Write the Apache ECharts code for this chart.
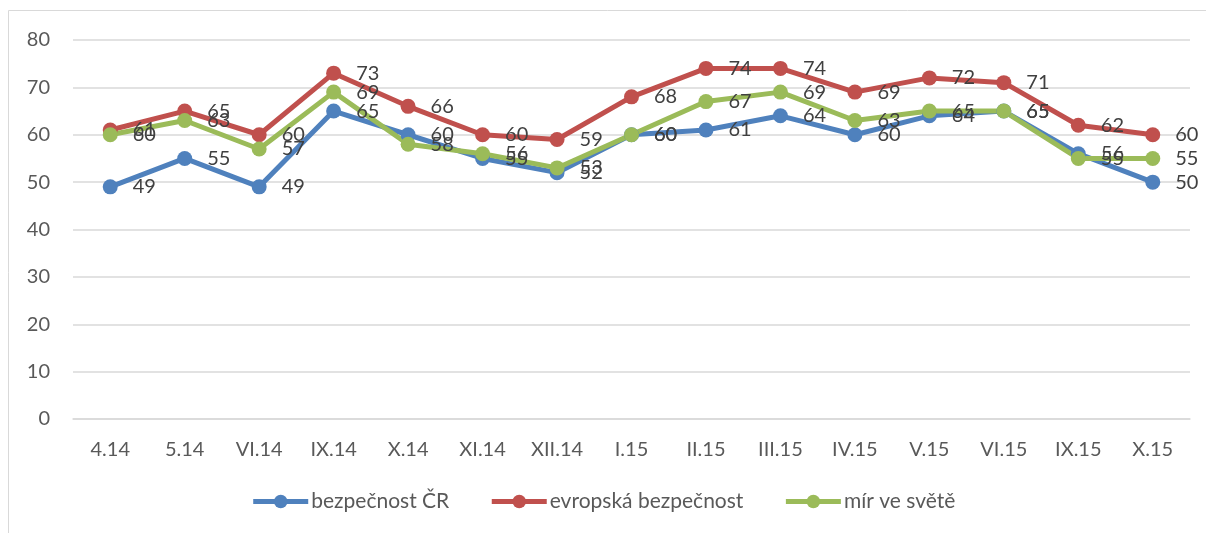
<!DOCTYPE html>
<html>
<head>
<meta charset="utf-8">
<script src="https://cdn.jsdelivr.net/npm/echarts@6/dist/echarts.min.js"></script>
<style>html,body{margin:0;padding:0;background:#fff}#c{width:1206px;height:533px}</style>
</head>
<body>
<div id="c"></div>
<script>
const categories = ['4.14','5.14','VI.14','IX.14','X.14','XI.14','XII.14','I.15','II.15','III.15','IV.15','V.15','VI.15','IX.15','X.15'];
const bezpecnostCR = [49,55,49,65,60,55,52,60,61,64,60,64,65,56,50];
const evropskaBezpecnost = [61,65,60,73,66,60,59,68,74,74,69,72,71,62,60];
const mirVeSvete = [60,63,57,69,58,56,53,60,67,69,63,65,65,55,55];
const seriesNames = ['bezpečnost ČR','evropská bezpečnost','mír ve světě'];
const yTicks = [0,10,20,30,40,50,60,70,80];

const FONT = 'Lato, "Open Sans", sans-serif';
const TXT = '#595959';
const colors = ['#4f81bd','#c0504d','#9bbb59'];

function mk(name, data, color){
  return {
    name, type:'line', data,
    symbol:'circle', symbolSize:15,
    lineStyle:{width:5,color},
    itemStyle:{color},
    label:{show:true,position:'right',distance:15,color:'#404040',fontSize:20,fontFamily:FONT},
    emphasis:{disabled:true},
    animation:false
  };
}

const chart = echarts.init(document.getElementById('c'));
chart.setOption({
  animation:false,
  color:colors,
  graphic:[{type:'rect',shape:{x:8.5,y:10.5,width:1400,height:700},style:{fill:'none',stroke:'#d9d9d9',lineWidth:1},silent:true}],
  grid:{left:73,right:16,top:40,bottom:114,containLabel:false},
  legend:{
    data:seriesNames, bottom:16, left:'center',
    itemWidth:55, itemHeight:17, itemGap:40,
    lineStyle:{width:5},
    textStyle:{color:TXT,fontSize:21,fontFamily:FONT,padding:[0,0,0,-2]}
  },
  xAxis:{
    type:'category', data:categories, boundaryGap:true,
    axisLine:{show:true,lineStyle:{color:'#d9d9d9',width:1.5}},
    axisTick:{show:false},
    axisLabel:{color:TXT,fontSize:20,fontFamily:FONT,margin:21,interval:0}
  },
  yAxis:{
    type:'value', min:yTicks[0], max:yTicks[yTicks.length-1], interval:10,
    axisLine:{show:false}, axisTick:{show:false},
    splitLine:{lineStyle:{color:'#d9d9d9',width:1.5}},
    axisLabel:{color:TXT,fontSize:20,fontFamily:FONT,margin:23}
  },
  series:[mk(seriesNames[0],bezpecnostCR,colors[0]),mk(seriesNames[1],evropskaBezpecnost,colors[1]),mk(seriesNames[2],mirVeSvete,colors[2])]
});
</script>
</body>
</html>
